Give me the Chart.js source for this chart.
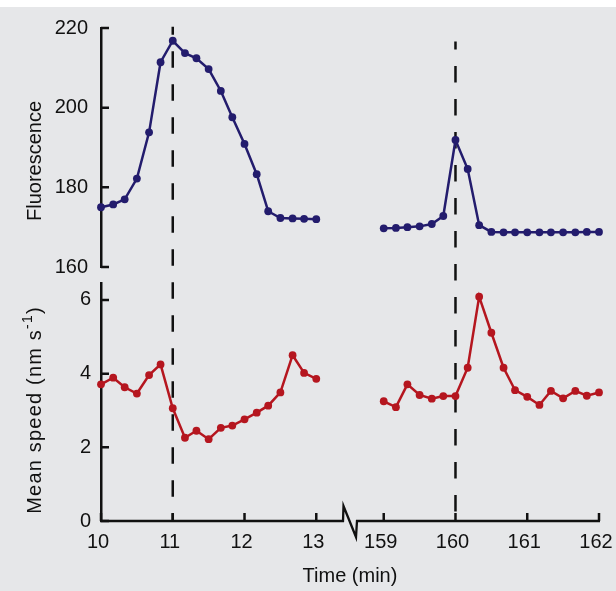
<!DOCTYPE html>
<html>
<head>
<meta charset="utf-8">
<script src="https://cdn.jsdelivr.net/npm/chart.js@4"></script>
<style>
  html, body { margin: 0; padding: 0; }
  body { width: 616px; height: 591px; background: #e6e7e9; position: relative; overflow: hidden; }
  #strip { position: absolute; left: 0; top: 0; width: 616px; height: 7px; background: #fff; }
  canvas { position: absolute; left: 0; top: 0; }
</style>
</head>
<body>
<div id="strip"></div>
<canvas id="fluo-chart" width="616" height="591"></canvas>
<canvas id="speed-chart" width="616" height="591"></canvas>
<script>
// sampling every 10 s, in minutes
const timesEarly = [10.00, 10.17, 10.33, 10.50, 10.67, 10.83, 11.00, 11.17, 11.33, 11.50,
  11.67, 11.83, 12.00, 12.17, 12.33, 12.50, 12.67, 12.83, 13.00];
const timesLate = [159.00, 159.17, 159.33, 159.50, 159.67, 159.83, 160.00, 160.17, 160.33, 160.50,
  160.67, 160.83, 161.00, 161.17, 161.33, 161.50, 161.67, 161.83, 162.00];

const fluorEarly = [175.0, 175.7, 177.0, 182.2, 193.8, 211.4, 216.8, 213.7, 212.4, 209.7,
  204.2, 197.6, 190.9, 183.3, 174.0, 172.3, 172.2, 172.1, 172.0];
const fluorLate = [169.7, 169.8, 170.0, 170.2, 170.8, 172.8, 191.9, 184.6, 170.5, 168.8,
  168.7, 168.7, 168.7, 168.7, 168.7, 168.7, 168.7, 168.8, 168.8];

const speedEarly = [3.71, 3.89, 3.63, 3.46, 3.96, 4.25, 3.06, 2.26, 2.45, 2.22,
  2.53, 2.59, 2.76, 2.94, 3.13, 3.49, 4.50, 4.02, 3.86];
const speedLate = [3.25, 3.09, 3.71, 3.42, 3.32, 3.39, 3.39, 4.16, 6.09, 5.11,
  4.16, 3.55, 3.37, 3.15, 3.53, 3.33, 3.53, 3.40, 3.49];

const eventTimes = [11, 160];
const eventTops = [220.3, 216.6]; // fluorescence level where each dashed marker starts

const xTicksEarly = [10, 11, 12, 13];
const xTicksLate = [159, 160, 161, 162];
const fluorTicks = [160, 180, 200, 220];
const speedTicks = [0, 2, 4, 6];

const BLUE = '#231c6d';
const RED = '#b5161f';
const INK = '#111111';

// late times get pulled left so 159 sits just after 13 (broken axis)
const BREAK_SHIFT = 145.06;
const plotX = t => (t > 100 ? t - BREAK_SHIFT : t);
const labelX = v => Math.round(v > 13.5 ? v + BREAK_SHIFT : v);
const pts = (xs, ys) => xs.map((t, i) => ({ x: plotX(t), y: ys[i] }));

Chart.defaults.font.family = '"Liberation Sans", Arial, sans-serif';
Chart.defaults.font.size = 20;
Chart.defaults.color = INK;

function lineSet(xs, ys, color) {
  return {
    data: pts(xs, ys),
    borderColor: color,
    backgroundColor: color,
    pointBackgroundColor: color,
    borderWidth: 2.5,
    pointRadius: 3.9,
    pointBorderWidth: 0,
    tension: 0,
    clip: false,
  };
}

// keep the plot box fixed: labels may hang outside it
function noOverhang(s) {
  s.paddingLeft = 0;
  s.paddingRight = 0;
  s.paddingTop = 0;
  s.paddingBottom = 0;
}

function xScale(show) {
  return {
    type: 'linear',
    min: plotX(10),
    max: plotX(162),
    display: show,
    grid: { display: false, drawTicks: false },
    border: { display: false },
    afterBuildTicks: s => { s.ticks = [...xTicksEarly, ...xTicksLate].map(t => ({ value: plotX(t) })); },
    ticks: { padding: 9, labelOffset: -3, maxRotation: 0, autoSkip: false, callback: v => labelX(v) },
    title: { display: show, text: 'Time (min)', padding: { top: 0, bottom: 3 } },
    afterFit: s => { s.height = show ? 70 : 0; noOverhang(s); },
  };
}

function yScale(min, max, tickList, pad) {
  return {
    min, max,
    grid: { display: false, drawTicks: false },
    border: { display: true, width: 2.5, color: INK },
    afterBuildTicks: s => { s.ticks = tickList.map(v => ({ value: v })); },
    ticks: { padding: pad },
    afterFit: s => { s.width = 101; noOverhang(s); },
  };
}

const inwardTicks = {
  id: 'inwardTicks',
  afterDraw(chart, args, opts) {
    const { ctx, chartArea: a, scales: { x, y } } = chart;
    ctx.save();
    ctx.strokeStyle = INK;
    ctx.lineWidth = 2.5;
    ctx.beginPath();
    y.ticks.forEach(t => {
      const py = y.getPixelForValue(t.value);
      ctx.moveTo(a.left, py);
      ctx.lineTo(a.left + 8, py);
    });
    if (opts.xTicks) {
      x.ticks.forEach(t => {
        const px = x.getPixelForValue(t.value);
        ctx.moveTo(px, a.bottom);
        ctx.lineTo(px, a.bottom - 8);
      });
    }
    ctx.stroke();
    ctx.restore();
  },
};

const brokenAxis = {
  id: 'brokenAxis',
  afterDraw(chart, args, opts) {
    if (!opts.show) return;
    const { ctx, chartArea: a, scales: { x } } = chart;
    const mid = x.getPixelForValue((13 + plotX(159)) / 2);
    const y0 = a.bottom;
    ctx.save();
    ctx.strokeStyle = INK;
    ctx.lineWidth = 2.3;
    ctx.beginPath();
    ctx.moveTo(a.left - 1, y0);
    ctx.lineTo(mid - 7, y0);
    ctx.lineTo(mid - 6.5, y0 - 15);
    ctx.lineTo(mid + 6, y0 + 16);
    ctx.lineTo(mid + 7, y0);
    ctx.lineTo(a.right + 1, y0);
    ctx.stroke();
    ctx.restore();
  },
};

const yTitle = {
  id: 'yTitle',
  afterDraw(chart, args, opts) {
    if (!opts.parts) return;
    const { ctx, chartArea: a } = chart;
    const font = size => `${size}px "Liberation Sans", Arial, sans-serif`;
    ctx.save();
    ctx.letterSpacing = (opts.spacing || 0) + 'px';
    let total = 0;
    opts.parts.forEach(p => { ctx.font = font(p.size); total += ctx.measureText(p.text).width; });
    ctx.translate(opts.x, (a.top + a.bottom) / 2 + opts.shift);
    ctx.rotate(-Math.PI / 2);
    ctx.fillStyle = INK;
    ctx.textBaseline = 'alphabetic';
    let cx = -total / 2;
    opts.parts.forEach(p => {
      ctx.font = font(p.size);
      ctx.fillText(p.text, cx, -p.rise);
      cx += ctx.measureText(p.text).width;
    });
    ctx.restore();
  },
};

let speedChart = null;

const eventLines = {
  id: 'eventLines',
  beforeDatasetsDraw(chart, args, opts) {
    if (!opts.show || !speedChart) return;
    const { ctx, scales: { x, y } } = chart;
    const bottomY = speedChart.scales.y.getPixelForValue(0);
    ctx.save();
    ctx.strokeStyle = INK;
    ctx.lineWidth = 2.5;
    ctx.setLineDash([16.5, 16.5]);
    ctx.lineDashOffset = 8.5;
    eventTimes.forEach((t, i) => {
      const px = x.getPixelForValue(plotX(t));
      ctx.beginPath();
      ctx.moveTo(px, y.getPixelForValue(eventTops[i]));
      ctx.lineTo(px, bottomY);
      ctx.stroke();
    });
    ctx.restore();
  },
};

const common = {
  responsive: false,
  animation: false,
  events: [],
};

speedChart = new Chart(document.getElementById('speed-chart'), {
  type: 'line',
  data: { datasets: [lineSet(timesEarly, speedEarly, RED), lineSet(timesLate, speedLate, RED)] },
  plugins: [inwardTicks, brokenAxis, yTitle],
  options: {
    ...common,
    layout: { padding: { top: 283, right: 17, bottom: 0, left: 0 } },
    scales: { x: xScale(true), y: yScale(0, 6.46, speedTicks, 10) },
    plugins: {
      legend: { display: false },
      tooltip: { enabled: false },
      inwardTicks: { xTicks: true },
      brokenAxis: { show: true },
      yTitle: {
        x: 41, shift: 8, spacing: 1.2,
        parts: [
          { text: 'Mean speed (nm s', size: 20, rise: 0 },
          { text: '-1', size: 14, rise: 9 },
          { text: ')', size: 20, rise: 0 },
        ],
      },
    },
  },
});

new Chart(document.getElementById('fluo-chart'), {
  type: 'line',
  data: { datasets: [lineSet(timesEarly, fluorEarly, BLUE), lineSet(timesLate, fluorLate, BLUE)] },
  plugins: [eventLines, inwardTicks, yTitle],
  options: {
    ...common,
    layout: { padding: { top: 28, right: 17, bottom: 324, left: 0 } },
    scales: { x: xScale(false), y: yScale(160, 220, fluorTicks, 13) },
    plugins: {
      legend: { display: false },
      tooltip: { enabled: false },
      inwardTicks: { xTicks: false },
      eventLines: { show: true },
      yTitle: { x: 41, shift: 13.5, parts: [{ text: 'Fluorescence', size: 20, rise: 0 }] },
    },
  },
});
</script>
</body>
</html>
